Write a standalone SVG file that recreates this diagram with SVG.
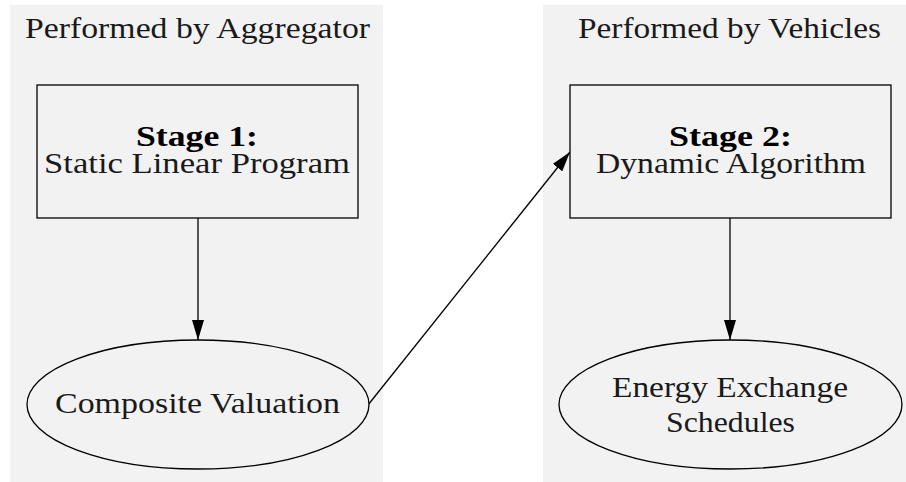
<svg xmlns="http://www.w3.org/2000/svg" width="906" height="482" viewBox="0 0 906 482">
<style>
.cluster{fill:#f2f2f2;stroke:none}
.node{fill:#f2f2f2;stroke:#000;stroke-width:1.3}
.t{font-family:"Liberation Serif","Times New Roman",serif;font-size:29px;fill:#1a1a1a;text-anchor:middle}
.b{font-weight:bold;fill:#000}
.edge{stroke:#000;stroke-width:1.3;fill:none}
</style>
<defs>
<marker id="ah" markerUnits="userSpaceOnUse" markerWidth="20" markerHeight="12" refX="20" refY="6" orient="auto">
<path d="M0,0 L20,6 L0,12 Z" fill="#000"/>
</marker>
</defs>
<g id="cluster_aggregator">
<rect class="cluster" x="10" y="5" width="373" height="477"/>
<text class="t" x="197.5" y="38" textLength="345" lengthAdjust="spacingAndGlyphs">Performed by Aggregator</text>
</g>
<g id="cluster_vehicles">
<rect class="cluster" x="543" y="5" width="363" height="477"/>
<text class="t" x="729.5" y="38" textLength="303" lengthAdjust="spacingAndGlyphs">Performed by Vehicles</text>
</g>
<g id="connectors">
<line class="edge" x1="198" y1="218" x2="198" y2="340" marker-end="url(#ah)"/>
<line class="edge" x1="368" y1="405" x2="570" y2="152" marker-end="url(#ah)"/>
<line class="edge" x1="730" y1="218" x2="730" y2="340" marker-end="url(#ah)"/>
</g>
<g id="stage1">
<rect class="node" x="37" y="85" width="321" height="133"/>
<text class="t b" x="197" y="146" textLength="122" lengthAdjust="spacingAndGlyphs">Stage 1:</text>
<text class="t" x="197" y="173" textLength="306" lengthAdjust="spacingAndGlyphs">Static Linear Program</text>
</g>
<g id="composite">
<ellipse class="node" cx="198" cy="404.5" rx="171" ry="64.5"/>
<text class="t" x="197.5" y="413" textLength="285" lengthAdjust="spacingAndGlyphs">Composite Valuation</text>
</g>
<g id="stage2">
<rect class="node" x="570" y="85" width="321" height="133"/>
<text class="t b" x="730.5" y="146" textLength="123" lengthAdjust="spacingAndGlyphs">Stage 2:</text>
<text class="t" x="731" y="173" textLength="270" lengthAdjust="spacingAndGlyphs">Dynamic Algorithm</text>
</g>
<g id="schedules">
<ellipse class="node" cx="730.5" cy="404.5" rx="171.5" ry="64.5"/>
<text class="t" x="730" y="397" textLength="236" lengthAdjust="spacingAndGlyphs">Energy Exchange</text>
<text class="t" x="730.5" y="432" textLength="129" lengthAdjust="spacingAndGlyphs">Schedules</text>
</g>
</svg>
